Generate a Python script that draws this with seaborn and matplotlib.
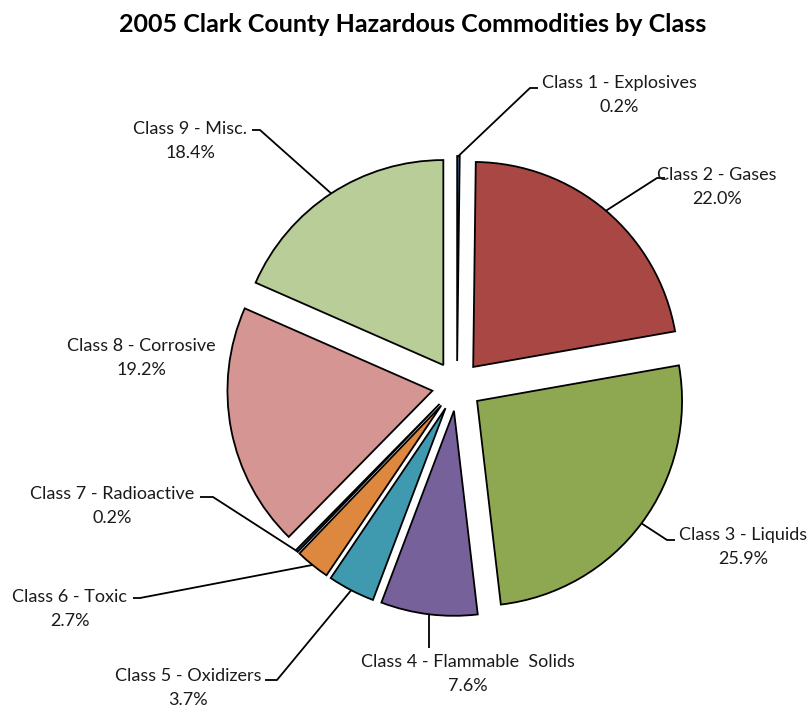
import matplotlib
matplotlib.use("Agg")
import matplotlib.pyplot as plt
import seaborn as sns
import numpy as np

# Hazardous commodity share by class (percent)
classes = [
    "Class 1 - Explosives",
    "Class 2 - Gases",
    "Class 3 - Liquids",
    "Class 4 - Flammable  Solids",
    "Class 5 - Oxidizers",
    "Class 6 - Toxic",
    "Class 7 - Radioactive",
    "Class 8 - Corrosive",
    "Class 9 - Misc.",
]
shares = [0.2, 22.0, 25.9, 7.6, 3.7, 2.7, 0.2, 19.2, 18.4]
colors = ["#3F6C9E", "#A84744", "#8EA851", "#77619A", "#3F9AB0",
          "#DD873F", "#2B4A72", "#D49593", "#B8CD97"]

sns.set_theme(style="white")
plt.rcParams["font.family"] = ["Lato", "DejaVu Sans"]

W, H = 810, 710
fig = plt.figure(figsize=(W / 100, H / 100), dpi=100)
ax = fig.add_axes([0, 0, 1, 1])

radius = 205
gap = 25  # offset of every slice from the centre, in data units
wedges, _ = ax.pie(
    shares, colors=sns.color_palette(colors), explode=[gap] * len(shares),
    startangle=90, counterclock=False, center=(457, H - 386), radius=radius,
    wedgeprops=dict(edgecolor="black", linewidth=1.3),
)
ax.set_xlim(0, W)
ax.set_ylim(0, H)
ax.set_aspect("equal")
ax.axis("off")

# leader layout: (elbow point, line end, label centre) in pixel space (y from top)
layout = [
    ((530, 88), (538, 88), (619, 95)),
    ((657, 178), (665, 178), (717, 187)),
    ((667, 540), (675, 540), (743, 547)),
    (None, (430, 648), (468, 674)),
    ((277, 680), (265, 680), (188, 688)),
    ((140, 598), (133, 598), (70, 609)),
    ((213, 497), (200, 497), (112, 506)),
    (None, None, (141, 358)),
    ((260, 130), (252, 130), (190, 141)),
]

for w, name, val, (elbow, end, txt) in zip(wedges, classes, shares, layout):
    if end is not None:
        mid = np.deg2rad((w.theta1 + w.theta2) / 2)
        cx, cy = w.center
        sx, sy = cx + w.r * np.cos(mid), cy + w.r * np.sin(mid)
        xs, ys = [sx], [sy]
        if elbow is not None:
            xs.append(elbow[0]); ys.append(H - elbow[1])
        else:
            end = (sx, end[1])
        xs.append(end[0]); ys.append(H - end[1])
        ax.plot(xs, ys, color="black", lw=1.3, solid_capstyle="butt")
    ax.text(txt[0], H - txt[1], f"{name}\n{val:.1f}%", ha="center", va="center",
            multialignment="center", fontsize=13, linespacing=1.6, color="#1a1a1a")

fig.text(0.51, 1 - 24 / H, "2005 Clark County Hazardous Commodities by Class",
         ha="center", va="center", fontsize=18, fontweight="bold", color="black")

fig.savefig("out.png", dpi=100, facecolor="white")
